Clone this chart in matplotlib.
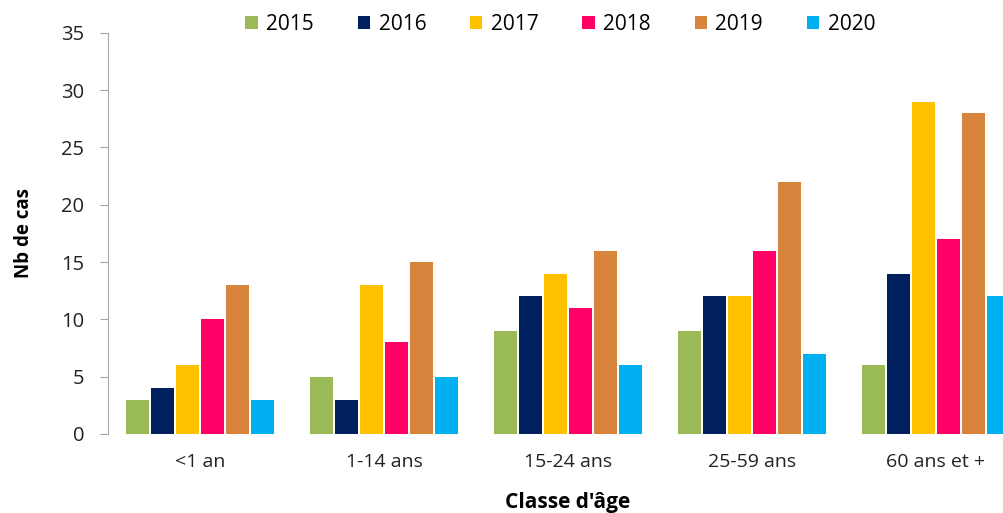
import matplotlib.pyplot as plt
import numpy as np

classes = ["<1 an", "1-14 ans", "15-24 ans", "25-59 ans", "60 ans et +"]
years = ["2015", "2016", "2017", "2018", "2019", "2020"]
cases_2015 = [3, 5, 9, 9, 6]
cases_2016 = [4, 3, 12, 12, 14]
cases_2017 = [6, 13, 14, 12, 29]
cases_2018 = [10, 8, 11, 16, 17]
cases_2019 = [13, 15, 16, 22, 28]
cases_2020 = [3, 5, 6, 7, 12]
series = [cases_2015, cases_2016, cases_2017, cases_2018, cases_2019, cases_2020]
colors = ["#9BBB59", "#002060", "#FFC000", "#FF0066", "#D8843C", "#00B0F0"]

plt.rcParams['font.family'] = ['Open Sans', 'DejaVu Sans']

fig = plt.figure(figsize=(10.04, 5.13), dpi=100)
# axes run past the right border, as in the exported slide
ax = fig.add_axes([0.1076, 0.154, 0.9163, 0.782])

x = np.arange(len(classes))
pitch = 0.136
width = 0.125
for i, (vals, col) in enumerate(zip(series, colors)):
    ax.bar(x + (i - 2.5) * pitch, vals, width, color=col, label=years[i])

ax.set_xlim(-0.5, 4.5)
ax.set_ylim(0, 35)
ax.set_yticks(np.arange(0, 36, 5))
ax.set_xticks(x)
ax.set_xticklabels(classes, fontsize=14, color="#222222")
ax.tick_params(axis='x', length=0, pad=14)
ax.tick_params(axis='y', length=6, color="#A6A6A6", labelsize=14.5, pad=11, labelcolor="#222222")

for s in ['top', 'right', 'bottom']:
    ax.spines[s].set_visible(False)
ax.spines['left'].set_color("#A6A6A6")

ax.set_ylabel("Nb de cas", fontsize=13.5, fontweight='bold', labelpad=20)
ax.set_xlabel("Classe d'âge", fontsize=15, fontweight='bold', labelpad=15)

leg = fig.legend(loc='center', bbox_to_anchor=(0.558, 0.953), ncol=6, frameon=False,
                 fontsize=15, handlelength=0.6, handleheight=0.6, handletextpad=0.4,
                 columnspacing=2.1)

fig.savefig("out.png", dpi=100)
